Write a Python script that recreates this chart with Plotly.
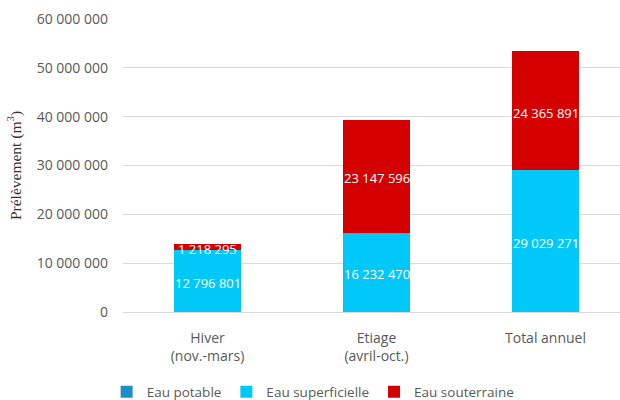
import plotly.graph_objects as go

# Water withdrawals by period (m3)
categories = ["Hiver<br>(nov.-mars)", "Etiage<br>(avril-oct.)", "Total annuel"]
eau_potable = [0, 0, 0]
eau_superficielle = [12796801, 16232470, 29029271]
eau_souterraine = [1218295, 23147596, 24365891]

series_names = ["Eau potable", "Eau superficielle", "Eau souterraine"]
series_colors = ["#1f8ccb", "#00c8f8", "#d40000"]

tick_font = dict(family="Open Sans", size=14, color="#595959")

fig = go.Figure()
stack = [eau_potable, eau_superficielle, eau_souterraine]
for name, vals, col in zip(series_names, stack, series_colors):
    fig.add_trace(go.Bar(
        x=categories, y=vals, name=name,
        marker=dict(color=col, line=dict(width=0)), width=0.4,
        textposition="none",
    ))

# Value labels centred in each visible segment
def fmt(v):
    return f"{v:,}".replace(",", " ")

base = [0] * len(categories)
for vals in stack:
    for i, v in enumerate(vals):
        if v > 0:
            fig.add_annotation(
                x=categories[i], y=base[i] + v / 2, text=fmt(v),
                showarrow=False, yshift=-2,
                font=dict(family="Open Sans", size=13, color="white"),
            )
        base[i] += v

fig.update_layout(
    barmode="stack",
    width=620, height=400,
    margin=dict(l=123, r=0, t=19, b=88, autoexpand=False),
    paper_bgcolor="white", plot_bgcolor="white",
    separators=", ",
    showlegend=True,
    legend=dict(
        orientation="h", x=0.172, xref="container", y=0.02, yref="container",
        xanchor="left", yanchor="middle",
        font=dict(family="Open Sans", size=13.5, color="#595959"),
        traceorder="normal",
    ),
    xaxis=dict(
        range=[-0.5, -0.5 + 497 / 169], tickfont=tick_font,
        showgrid=False, showline=False, zeroline=False,
        ticks="", ticklabelstandoff=16, automargin=False,
    ),
    yaxis=dict(
        range=[0, 60000000], dtick=10000000, tickformat=",d",
        tickfont=tick_font, showgrid=True, gridcolor="#d9d9d9", gridwidth=1,
        zeroline=True, zerolinecolor="#d9d9d9", zerolinewidth=1,
        ticks="", ticklabelstandoff=14, automargin=False,
        title=dict(
            text="Prélèvement (m<sup>3</sup>)",
            font=dict(family="Liberation Serif", size=15.5, color="#333333"),
            standoff=11,
        ),
    ),
)

fig.write_html("out.html")
